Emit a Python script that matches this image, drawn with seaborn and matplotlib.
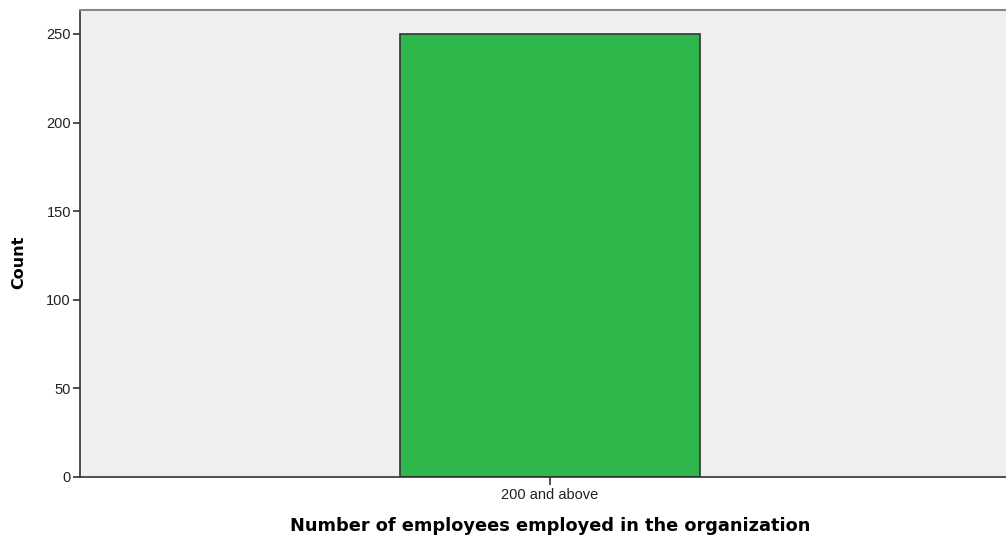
import matplotlib
matplotlib.use("Agg")
import matplotlib.pyplot as plt
import seaborn as sns
import pandas as pd

categories = ["200 and above"]
counts = [250]

sns.set_style("white")
plt.rcParams['font.family'] = ['Liberation Sans', 'DejaVu Sans']

fig = plt.figure(figsize=(10.06, 5.40), dpi=100)
W, H = 1006, 540
ax = fig.add_axes([80 / W, 1 - 477 / H, 940 / W, (477 - 10) / H])
ax.set_facecolor("#EFEFEF")

df = pd.DataFrame({"cat": categories, "count": counts})
sns.barplot(data=df, x="cat", y="count", ax=ax, color="#2EB84B",
            saturation=1, width=300 / 940, edgecolor="#333333", linewidth=1.2)

ax.set_xlim(-0.5, 0.5)
ax.set_ylim(0, 263.5)
ax.set_yticks([0, 50, 100, 150, 200, 250])
ax.tick_params(axis="both", which="major", left=True, bottom=True,
               direction="out", length=5, width=1.2, color="#333333",
               labelsize=10.5, labelcolor="#222222", pad=1.5)
ax.tick_params(axis="x", length=6, pad=2)
for s in ["left", "bottom"]:
    ax.spines[s].set_color("#333333")
    ax.spines[s].set_linewidth(1.2)
ax.spines["top"].set_color("#888888")
ax.spines["top"].set_linewidth(1.5)
ax.spines["right"].set_visible(False)

lab_font = dict(family="DejaVu Sans", fontweight="bold", color="black")
ax.set_xlabel("Number of employees employed in the organization", fontsize=12.8, **lab_font)
ax.set_ylabel("Count", fontsize=11.5, **lab_font)
ax.xaxis.set_label_coords((550 - 80) / 940, -(517 - 477) / 467)
ax.yaxis.set_label_coords(-(80 - 26) / 940, (477 - 262) / 467)

fig.savefig("out.png", dpi=100)
